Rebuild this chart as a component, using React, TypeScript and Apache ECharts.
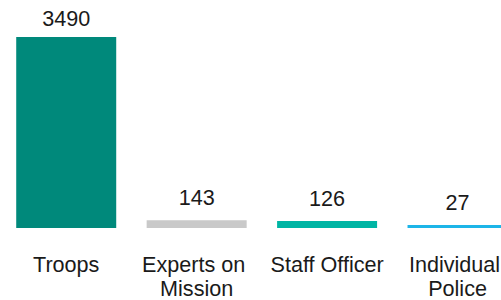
import React, { useEffect, useRef } from "react";
import * as echarts from "echarts";

const categories = ["Troops", "Experts on Mission", "Staff Officer", "Individual Police"];
const values = [3490, 143, 126, 27];
const colors = ["#00897b", "#c9c9c9", "#00b5a4", "#1db5e8"];

export default function App() {
  const ref = useRef<HTMLDivElement>(null);
  useEffect(() => {
    if (!ref.current) return;
    const chart = echarts.init(ref.current, undefined, { renderer: "svg" });
    const maxVal = Math.max(...values);
    chart.setOption({
      animation: false,
      grid: { left: 1, right: 0, top: 37, bottom: 69, containLabel: false },
      xAxis: {
        type: "category",
        data: categories,
        axisLine: { show: false },
        axisTick: { show: false },
        axisLabel: {
          interval: 0,
          margin: 24,
          fontSize: 21.6,
          lineHeight: 24,
          color: "#1a1a1a",
          fontFamily: "Liberation Sans, Arial, sans-serif",
          width: 125,
          overflow: "break",
        },
      },
      yAxis: { type: "value", min: 0, max: maxVal, show: false, splitLine: { show: false } },
      series: [
        {
          type: "bar",
          barWidth: 100,
          barMinHeight: 3,
          data: values.map((v, i) => ({
            value: v,
            itemStyle: { color: colors[i] },
            label: { distance: v === maxVal ? 8 : 12 },
          })),
          label: {
            show: true,
            position: "top",
            fontSize: 21.6,
            color: "#1a1a1a",
            fontFamily: "Liberation Sans, Arial, sans-serif",
          },
        },
      ],
    });
    return () => chart.dispose();
  }, []);
  return (
    <div style={{ position: "absolute", left: 0, top: 0, width: 501, height: 300, overflow: "hidden" }}>
      <div ref={ref} style={{ width: 523, height: 300 }} />
    </div>
  );
}
